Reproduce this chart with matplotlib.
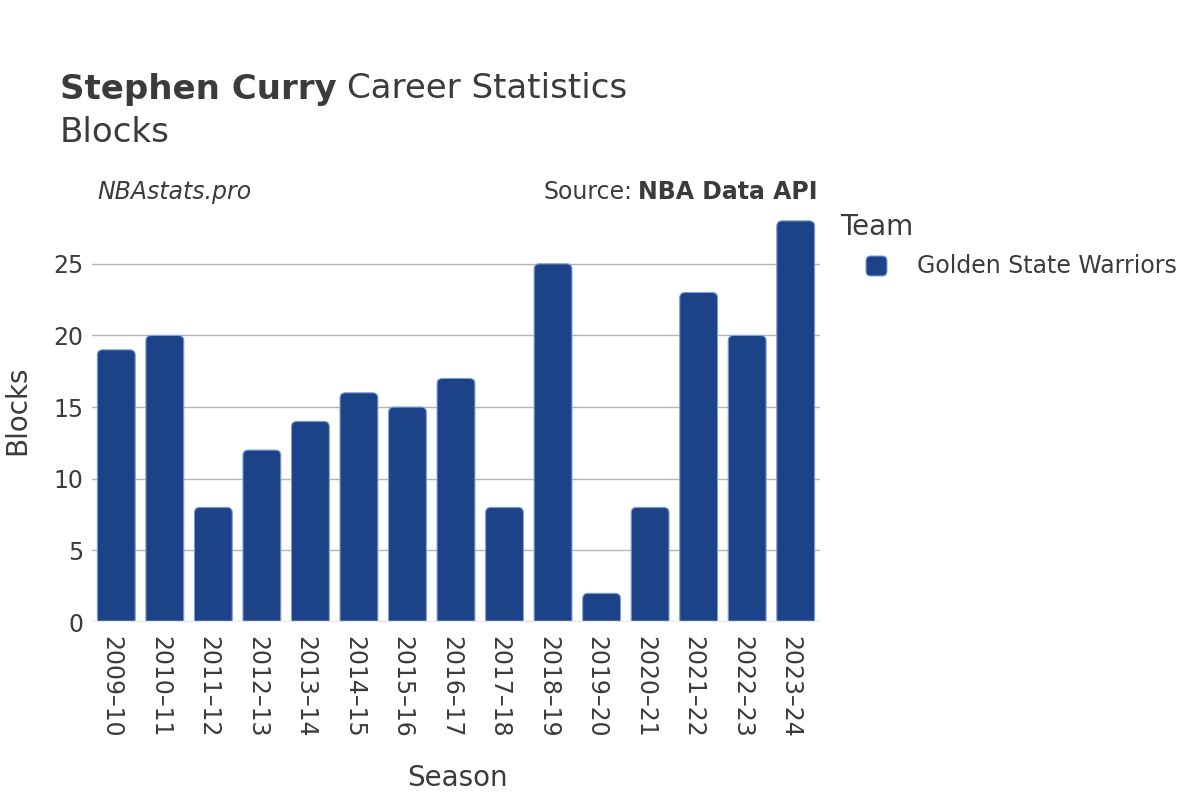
import matplotlib
matplotlib.use("Agg")
import matplotlib.pyplot as plt
import matplotlib.transforms as mtransforms
from matplotlib.patches import FancyBboxPatch

# ── Data ───────────────────────────────────────────────────────────────────────
seasons = ["2009–10", "2010–11", "2011–12", "2012–13", "2013–14", "2014–15",
           "2015–16", "2016–17", "2017–18", "2018–19", "2019–20", "2020–21",
           "2021–22", "2022–23", "2023–24"]
blocks = [19, 20, 8, 12, 14, 16, 15, 17, 8, 25, 2, 8, 23, 20, 28]
team = "Golden State Warriors"

BAR_COLOR = "#1c4288"
EDGE_COLOR = "#7f9fd6"
TEXT_COLOR = "#3b3b3b"
GRID_COLOR = "#b4b4b4"

plt.rcParams["font.family"] = ["DejaVu Sans"]

W, H = 1200, 800
fig = plt.figure(figsize=(12, 8), dpi=100)
ax = fig.add_axes([0.0767, 0.2225, 0.6066, 0.5265])

ymax = 29.4
ax.set_xlim(-0.5, len(seasons) - 0.5)
ax.set_ylim(0, ymax)

# rounded bars (bottom corners hidden below the axis)
bar_w = 0.78
px_x = 728 / len(seasons)          # pixels per x unit
px_y = 421 / ymax                  # pixels per y unit
aspect = px_x / px_y
for i, v in enumerate(blocks):
    p = FancyBboxPatch((i - bar_w / 2, -1), bar_w, v + 1,
                       boxstyle="round,pad=0,rounding_size=0.11",
                       mutation_aspect=aspect,
                       facecolor=BAR_COLOR, edgecolor=EDGE_COLOR,
                       linewidth=0.8, zorder=3)
    ax.add_patch(p)

ax.set_yticks([0, 5, 10, 15, 20, 25])
ax.yaxis.grid(True, color=GRID_COLOR, linewidth=1.0, zorder=0)
ax.axhline(0, color="#e6e6e6", linewidth=2.5, zorder=4)
ax.set_xticks(range(len(seasons)))
ax.set_xticklabels(seasons, rotation=-90)
ax.tick_params(axis="x", length=0, labelsize=17, labelcolor=TEXT_COLOR, pad=10)
ax.tick_params(axis="y", length=0, labelsize=17, labelcolor=TEXT_COLOR, pad=6)
shift = mtransforms.ScaledTranslation(-5 / 100, 0, fig.dpi_scale_trans)
for lbl in ax.get_xticklabels():
    lbl.set_transform(lbl.get_transform() + shift)
for s in ax.spines.values():
    s.set_visible(False)

ax.set_xlabel("Season", fontsize=20, color=TEXT_COLOR)
ax.xaxis.set_label_coords((457 - 92) / 728, -(778 - 622) / 421, transform=ax.transAxes)
ax.set_ylabel("Blocks", fontsize=20, color=TEXT_COLOR)
ax.yaxis.set_label_coords(-(92 - 17) / 728, (622 - 410) / 421)
ax.xaxis.label.set_va("center")
ax.yaxis.label.set_va("center")

# ── Titles ─────────────────────────────────────────────────────────────────────
renderer = fig.canvas.get_renderer()
t1 = fig.text(60 / W, 1 - 89 / H, "Stephen Curry", fontsize=24.5, fontweight="bold",
              color=TEXT_COLOR, va="center")
bb = t1.get_window_extent(renderer)
fig.text((bb.x1 + 10) / W, 1 - 89 / H, "Career Statistics", fontsize=24.5,
         color=TEXT_COLOR, va="center")
fig.text(60 / W, 1 - 132 / H, "Blocks", fontsize=24.5, color=TEXT_COLOR, va="center")
fig.text(97 / W, 1 - 192 / H, "NBAstats.pro", fontsize=17, style="italic",
         color=TEXT_COLOR, va="center")
t2 = fig.text(818 / W, 1 - 192 / H, "NBA Data API", fontsize=17, fontweight="bold",
              color=TEXT_COLOR, va="center", ha="right")
bb2 = t2.get_window_extent(renderer)
fig.text((bb2.x0 - 6) / W, 1 - 192 / H, "Source:", fontsize=17,
         color=TEXT_COLOR, va="center", ha="right")

# ── Legend (drawn by hand to match the indentation) ───────────────────────────
fig.text(840 / W, 1 - 227 / H, "Team", fontsize=20, color=TEXT_COLOR, va="center")
fig.patches.append(FancyBboxPatch((866 / W, 1 - 276 / H), 21 / W, 20 / H,
                                  boxstyle="round,pad=0,rounding_size=0.004",
                                  mutation_aspect=W / H,
                                  transform=fig.transFigure, figure=fig,
                                  facecolor=BAR_COLOR, edgecolor=EDGE_COLOR,
                                  linewidth=0.8))
fig.text(917 / W, 1 - 266 / H, team, fontsize=17, color=TEXT_COLOR, va="center")

fig.savefig("out.png", dpi=100)
